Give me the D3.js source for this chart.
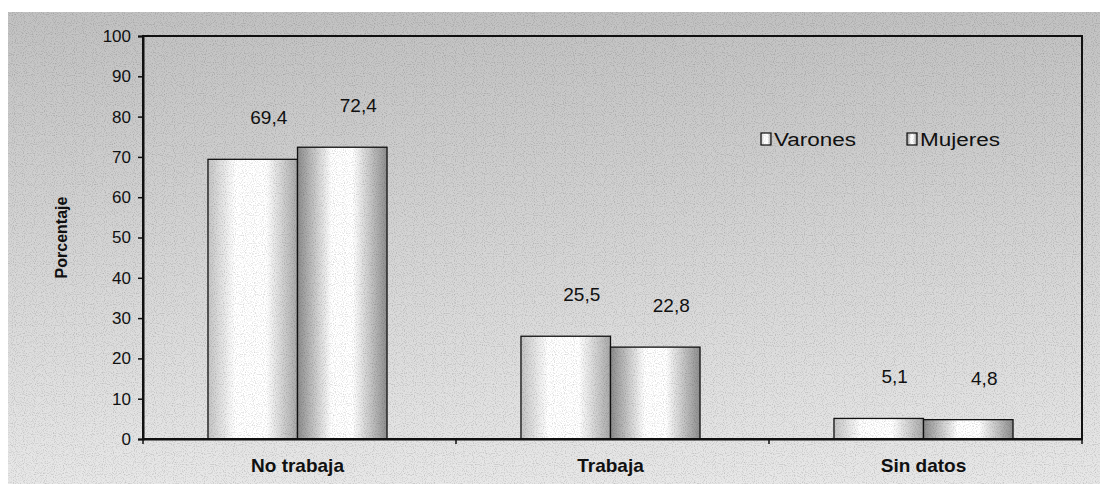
<!DOCTYPE html>
<html>
<head>
<meta charset="utf-8">
<script src="https://cdn.jsdelivr.net/npm/d3@7"></script>
<style>
  body { margin: 0; background: #ffffff; }
  text { font-family: "Liberation Sans", Arial, sans-serif; fill: #111; }
</style>
</head>
<body>
<div id="viz1"></div>
<script>
// data
var categories = ["No trabaja", "Trabaja", "Sin datos"];
var seriesNames = ["Varones", "Mujeres"];
var varones = [69.4, 25.5, 5.1];
var mujeres = [72.4, 22.8, 4.8];
var yTicks = [0, 10, 20, 30, 40, 50, 60, 70, 80, 90, 100];

// size of the svg
var w = 1108;
var h = 488;
var margin = {top: 36, bottom: 49, left: 143, right: 26};

var svg = d3.select("#viz1")
            .append("svg")
            .attr("width", w)
            .attr("height", h);

var defs = svg.append("defs");

// background gradient, darker at the top
var bg = defs.append("linearGradient")
             .attr("id", "bg")
             .attr("x1", 0).attr("y1", 0).attr("x2", 0).attr("y2", 1);
bg.append("stop").attr("offset", "0%").attr("stop-color", "#c2c2c2");
bg.append("stop").attr("offset", "100%").attr("stop-color", "#e8e8e8");

// cylinder like shading of the bars
var gv = defs.append("linearGradient").attr("id", "gVarones");
gv.append("stop").attr("offset", "0%").attr("stop-color", "#c4c4c4");
gv.append("stop").attr("offset", "30%").attr("stop-color", "#ffffff");
gv.append("stop").attr("offset", "65%").attr("stop-color", "#ffffff");
gv.append("stop").attr("offset", "100%").attr("stop-color", "#a8a8a8");

var gm = defs.append("linearGradient").attr("id", "gMujeres");
gm.append("stop").attr("offset", "0%").attr("stop-color", "#8c8c8c");
gm.append("stop").attr("offset", "38%").attr("stop-color", "#ffffff");
gm.append("stop").attr("offset", "62%").attr("stop-color", "#ffffff");
gm.append("stop").attr("offset", "100%").attr("stop-color", "#8e8e8e");

// speckle to look like the scan
var noise = defs.append("filter").attr("id", "noise")
                .attr("x", 0).attr("y", 0).attr("width", 1).attr("height", 1);
noise.append("feTurbulence")
     .attr("type", "fractalNoise")
     .attr("baseFrequency", 0.9)
     .attr("numOctaves", 1)
     .attr("seed", 3);
noise.append("feColorMatrix")
     .attr("type", "matrix")
     .attr("values", "0 0 0 0 0  0 0 0 0 0  0 0 0 0 0  0 0 0 -2.2 1.15");

var fills = ["url(#gVarones)", "url(#gMujeres)"];

// outer panel
svg.append("rect")
   .attr("x", 8)
   .attr("y", 12)
   .attr("width", w - 16)
   .attr("height", h - 16)
   .style("fill", "url(#bg)");

var x = d3.scaleBand()
          .domain(categories)
          .range([margin.left, w - margin.right])
          .paddingInner(0.428)
          .paddingOuter(0.214);

var x1 = d3.scaleBand()
           .domain(seriesNames)
           .range([0, x.bandwidth()]);

var y = d3.scaleLinear()
          .domain([0, 100])
          .range([h - margin.bottom, margin.top]);

var rows = categories.map(function(c, i){
  return {cat: c, values: [varones[i], mujeres[i]]};
});

// bars
var groups = svg.selectAll("g.group")
                .data(rows)
                .enter()
                .append("g")
                .attr("class", "group")
                .attr("transform", function(d){ return "translate(" + (x(d.cat) - 2) + ",0)"; });

groups.selectAll("rect")
      .data(function(d){ return d.values.map(function(v, j){ return {name: seriesNames[j], value: v, j: j}; }); })
      .enter()
      .append("rect")
      .attr("x", function(d){ return x1(d.name); })
      .attr("y", function(d){ return y(d.value); })
      .attr("width", x1.bandwidth())
      .attr("height", function(d){ return y(0) - y(d.value); })
      .style("fill", function(d){ return fills[d.j]; })
      .style("stroke", "#111")
      .style("stroke-width", 1.3);

// value labels, well above the bar top and a bit to the right
groups.selectAll("text.val")
      .data(function(d){ return d.values.map(function(v, j){ return {name: seriesNames[j], value: v}; }); })
      .enter()
      .append("text")
      .attr("class", "val")
      .attr("x", function(d){ return x1(d.name) + x1.bandwidth() / 2 + 16; })
      .attr("y", function(d){ return y(d.value) - 35; })
      .attr("text-anchor", "middle")
      .style("font-size", "19px")
      .text(function(d){ return d3.format(".1f")(d.value).replace(".", ","); });

// frame of the plot area
svg.append("rect")
   .attr("x", margin.left)
   .attr("y", margin.top)
   .attr("width", w - margin.left - margin.right)
   .attr("height", h - margin.top - margin.bottom)
   .style("fill", "none")
   .style("stroke", "#111")
   .style("stroke-width", 2);

// y axis
var yAxis = svg.append("g")
               .attr("transform", "translate(" + margin.left + ",0)")
               .call(d3.axisLeft(y).tickValues(yTicks).tickSize(5).tickPadding(7));
yAxis.select(".domain").style("stroke", "#111").style("stroke-width", 2);
yAxis.selectAll(".tick line").style("stroke", "#111").style("stroke-width", 1.5);
yAxis.selectAll(".tick text")
     .style("font-size", "17px")
     .style("font-family", "Liberation Sans, Arial, sans-serif")
     .style("fill", "#111");

// x axis, ticks between the categories
var xAxis = svg.append("g")
               .attr("transform", "translate(0," + (h - margin.bottom) + ")")
               .call(d3.axisBottom(x).tickSize(0).tickPadding(20));
xAxis.select(".domain").style("stroke", "#111").style("stroke-width", 2);
xAxis.selectAll(".tick text")
     .attr("dx", -2)
     .style("font-size", "19px")
     .style("font-weight", "bold")
     .style("font-family", "Liberation Sans, Arial, sans-serif")
     .style("fill", "#111");

var bounds = categories.map(function(c){ return x(c) - x.step() * x.paddingInner() / 2; });
bounds.push(w - margin.right);
svg.selectAll("line.xtick")
   .data(bounds)
   .enter()
   .append("line")
   .attr("class", "xtick")
   .attr("x1", function(d){ return d; })
   .attr("x2", function(d){ return d; })
   .attr("y1", h - margin.bottom)
   .attr("y2", h - margin.bottom + 5)
   .style("stroke", "#111")
   .style("stroke-width", 1.5);

// y axis title
svg.append("text")
   .attr("transform", "translate(67," + ((margin.top + h - margin.bottom) / 2) + ") rotate(-90)")
   .attr("text-anchor", "middle")
   .style("font-size", "16px")
   .style("font-weight", "bold")
   .text("Porcentaje");

// legend
var legend = svg.selectAll("g.legend")
                .data(seriesNames)
                .enter()
                .append("g")
                .attr("class", "legend")
                .attr("transform", function(d, i){ return "translate(" + (761 + i * 146) + ",133)"; });

legend.append("rect")
      .attr("width", 10)
      .attr("height", 12)
      .style("fill", function(d, i){ return fills[i]; })
      .style("stroke", "#111")
      .style("stroke-width", 1.2);

legend.append("text")
      .attr("transform", "translate(13,13) scale(1.25,1)")
      .style("font-size", "18px")
      .text(function(d){ return d; });

// scan speckle over everything
svg.append("rect")
   .attr("x", 8)
   .attr("y", 12)
   .attr("width", w - 16)
   .attr("height", h - 16)
   .attr("filter", "url(#noise)")
   .style("opacity", 0.22)
   .style("pointer-events", "none");
</script>
</body>
</html>
